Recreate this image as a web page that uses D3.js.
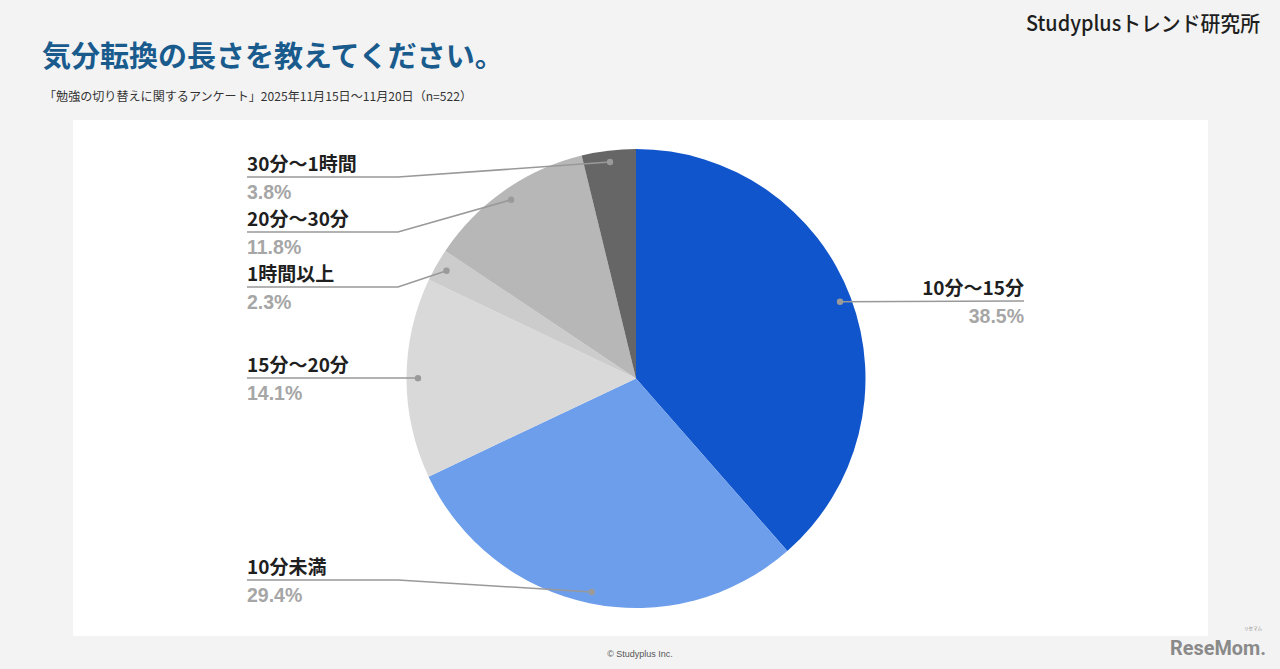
<!DOCTYPE html>
<html><head><meta charset="utf-8">
<script src="https://cdn.jsdelivr.net/npm/d3@7"></script>
<style>
html,body{margin:0;padding:0;background:#f3f3f3;}
svg{display:block;font-family:"Noto Sans CJK JP","Noto Sans",sans-serif;}
</style></head>
<body>
<svg id="c" width="1280" height="669"></svg>
<script>
const categories = ["10分〜15分","10分未満","15分〜20分","1時間以上","20分〜30分","30分〜1時間"];
const values = [38.5, 29.4, 14.1, 2.3, 11.8, 3.8];
const valueLabels = ["38.5%","29.4%","14.1%","2.3%","11.8%","3.8%"];
const colors = ["#1155cc","#6d9eeb","#d9d9d9","#cccccc","#b7b7b7","#666666"];

// label layout (y of leader line), side
const labelLayout = {
  "10分〜15分": {side:"right", y:301},
  "10分未満": {side:"left", y:580},
  "15分〜20分": {side:"left", y:378},
  "1時間以上": {side:"left", y:287},
  "20分〜30分": {side:"left", y:232},
  "30分〜1時間": {side:"left", y:177}
};

const svg = d3.select("#c");
svg.append("rect").attr("width",1280).attr("height",669).attr("fill","#f3f3f3");
svg.append("rect").attr("x",73).attr("y",120).attr("width",1135).attr("height",516).attr("fill","#ffffff");

svg.append("text").attr("x",42).attr("y",67).attr("font-size",29).attr("font-weight",700)
  .attr("fill","#1a5b8e").text("気分転換の長さを教えてください。");
svg.append("text").attr("x",44).attr("y",101).attr("font-size",12).attr("fill","#333")
  .attr("textLength",428).attr("lengthAdjust","spacingAndGlyphs")
  .text("「勉強の切り替えに関するアンケート」2025年11月15日〜11月20日（n=522）");
svg.append("text").attr("x",1260).attr("y",31).attr("text-anchor","end").attr("font-size",21)
  .attr("font-weight",500).attr("fill","#1e1e1e").attr("textLength",234).attr("lengthAdjust","spacingAndGlyphs")
  .text("Studyplusトレンド研究所");
svg.append("text").attr("x",640).attr("y",657).attr("text-anchor","middle").attr("font-size",9)
  .attr("font-family","Liberation Sans, Arial, sans-serif").attr("fill","#555").text("© Studyplus Inc.");
svg.append("text").attr("x",1266).attr("y",655).attr("text-anchor","end").attr("font-size",20)
  .attr("font-weight",700).attr("font-family","Roboto, sans-serif").attr("fill","#8a8a8a")
  .attr("textLength",96).attr("lengthAdjust","spacingAndGlyphs").text("ReseMom.");
svg.append("text").attr("x",1262).attr("y",630).attr("text-anchor","end").attr("font-size",4.5)
  .attr("fill","#8a8a8a").text("リセマム");

const cx = 636, cy = 378.5, R = 229.5;
const data = categories.map((c,i)=>({cat:c, value:values[i], label:valueLabels[i], color:colors[i]}));
const pie = d3.pie().value(d=>d.value).sort(null);
const arcs = pie(data);
const arc = d3.arc().innerRadius(0).outerRadius(R);
const dotArc = d3.arc().innerRadius(R*0.95).outerRadius(R*0.95);

const g = svg.append("g").attr("transform",`translate(${cx},${cy})`);
g.selectAll("path").data(arcs).join("path").attr("d",arc).attr("fill",d=>d.data.color);

const lab = svg.append("g");
arcs.forEach(a=>{
  const L = labelLayout[a.data.cat];
  const [dx,dy] = dotArc.centroid(a);
  const px = cx+dx, py = cy+dy;
  let pts;
  if(L.side==="right"){
    pts = [[px,py],[1024,L.y]];
  } else {
    const bend = Math.abs(py-L.y) < 2 ? px : 398;
    pts = [[247,L.y],[bend,L.y],[px,py]];
  }
  lab.append("path").attr("d",d3.line()(pts)).attr("fill","none").attr("stroke","#999").attr("stroke-width",1.6);
  lab.append("circle").attr("cx",px).attr("cy",py).attr("r",3.2).attr("fill","#9a9a9a");
  const tx = L.side==="right"?1024:247;
  const anchor = L.side==="right"?"end":"start";
  lab.append("text").attr("x",tx).attr("y",L.y-6).attr("text-anchor",anchor).attr("font-size",19)
    .attr("font-weight",700).attr("fill","#1f1f1f").text(a.data.cat);
  lab.append("text").attr("x",tx).attr("y",L.y+22).attr("text-anchor",anchor).attr("font-size",19.5)
    .attr("font-weight",700).attr("font-family","Liberation Sans, Arial, sans-serif").attr("fill","#a6a6a6").text(a.data.label);
});
</script>
</body></html>
